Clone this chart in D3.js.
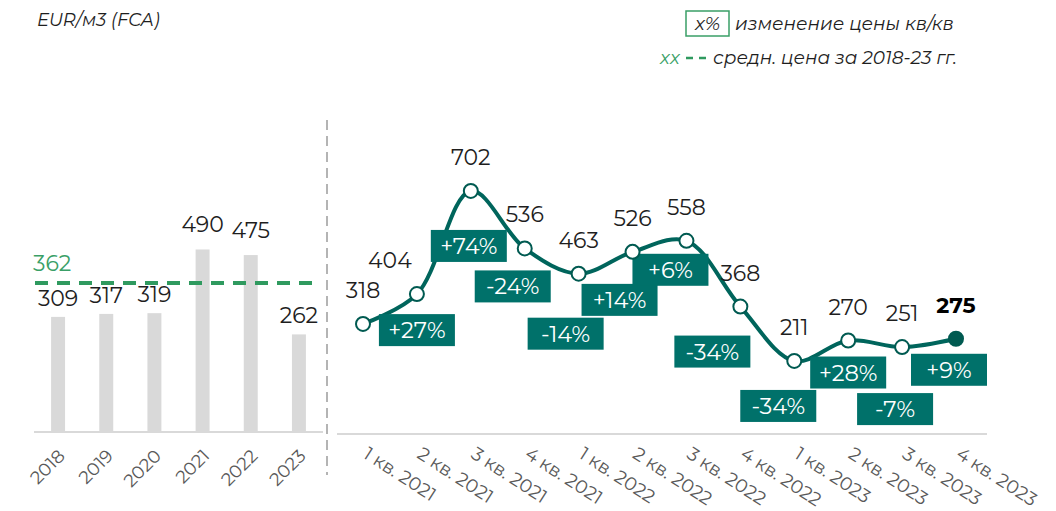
<!DOCTYPE html>
<html>
<head>
<meta charset="utf-8">
<script src="https://cdn.jsdelivr.net/npm/d3@7"></script>
<style>
    body { margin: 0; background: #fff; }
    svg { font-family: Montserrat, Inter, 'DejaVu Sans', sans-serif; }
</style>
</head>
<body>
<svg id="chart" width="1056" height="511"></svg>
<script>
const years = ['2018', '2019', '2020', '2021', '2022', '2023']
const yearPrices = [309, 317, 319, 490, 475, 262]
const avgPrice = 362

const quarters = [
    '1 кв. 2021', '2 кв. 2021', '3 кв. 2021', '4 кв. 2021',
    '1 кв. 2022', '2 кв. 2022', '3 кв. 2022', '4 кв. 2022',
    '1 кв. 2023', '2 кв. 2023', '3 кв. 2023', '4 кв. 2023'
]
const quarterPrices = [318, 404, 702, 536, 463, 526, 558, 368, 211, 270, 251, 275]
const qoqChanges = [27, 74, -24, -14, 14, 6, -34, -34, 28, -7, 9]

// hand placed offsets of the change boxes (from the point they belong to)
const boxOffsets = [
    [0, 36], [-2, 55], [-12, 38], [-13, 60], [-13, 48], [-16, 29],
    [-28, 45], [-16, 45], [0, 32], [-7, 62], [-7, 31]
]
const valueLabelDx = [0, -27, 0, 0, 0, 0, 0, 0, 0, 0, 0, 0]

const teal = '#00716a'
const lineColor = '#00655c'
const green = '#3a9f67'
const textColor = '#1e1e1e'
const tickColor = '#595959'

const svg = d3.select('#chart')

// ---- bars (years)
const xBar = d3.scaleBand()
    .domain(years)
    .range([34, 323])
    .paddingInner(0.71)
    .paddingOuter(0.355)
const yBar = d3.scaleLinear().domain([0, 800]).range([432, 134])
// average line sits on its own secondary axis
const yAvg = d3.scaleLinear().domain([0, avgPrice * 2]).range([432, 134])

svg.append('g')
    .selectAll('rect')
    .data(yearPrices)
    .enter()
    .append('rect')
    .attr('x', (d, i) => xBar(years[i]))
    .attr('y', (d) => yBar(d))
    .attr('width', xBar.bandwidth())
    .attr('height', (d) => yBar(0) - yBar(d))
    .attr('fill', '#d9d9d9')

svg.append('line')
    .attr('x1', 34).attr('x2', 323)
    .attr('y1', yBar(0)).attr('y2', yBar(0))
    .attr('stroke', '#d9d9d9')
    .attr('stroke-width', 2)

svg.append('line')
    .attr('x1', 35).attr('x2', 316)
    .attr('y1', yAvg(avgPrice)).attr('y2', yAvg(avgPrice))
    .attr('stroke', '#2f9a5f')
    .attr('stroke-width', 4)
    .attr('stroke-dasharray', '13,9')

svg.append('text')
    .attr('x', 33)
    .attr('y', yAvg(avgPrice) - 12)
    .attr('fill', green)
    .attr('font-size', 22)
    .text(avgPrice)

svg.append('g')
    .selectAll('text')
    .data(yearPrices)
    .enter()
    .append('text')
    .attr('x', (d, i) => xBar(years[i]) + xBar.bandwidth() / 2)
    .attr('y', (d) => yBar(d) - (d > 400 ? 17 : 11))
    .attr('text-anchor', 'middle')
    .attr('fill', textColor)
    .attr('font-size', 22)
    .text((d) => d)

svg.append('g')
    .selectAll('text')
    .data(years)
    .enter()
    .append('text')
    .attr('transform', (d) => `translate(${xBar(d) + xBar.bandwidth() / 2 + 8}, 457) rotate(-45)`)
    .attr('text-anchor', 'end')
    .attr('fill', tickColor)
    .attr('font-size', 18)
    .text((d) => d)

// ---- divider
svg.append('line')
    .attr('x1', 327).attr('x2', 327)
    .attr('y1', 120).attr('y2', 475)
    .attr('stroke', '#b4b4b4')
    .attr('stroke-width', 2)
    .attr('stroke-dasharray', '10,6')

// ---- quarterly line
const xLine = d3.scalePoint().domain(quarters).range([363, 956])
const yLine = d3.scaleLinear().domain([0, 800]).range([434, 157])

svg.append('line')
    .attr('x1', 337).attr('x2', 987)
    .attr('y1', yLine(0)).attr('y2', yLine(0))
    .attr('stroke', '#d9d9d9')
    .attr('stroke-width', 2)

const line = d3.line()
    .x((d, i) => xLine(quarters[i]))
    .y((d) => yLine(d))
    .curve(d3.curveCatmullRom.alpha(0.5))

svg.append('path')
    .datum(quarterPrices)
    .attr('d', line)
    .attr('fill', 'none')
    .attr('stroke', lineColor)
    .attr('stroke-width', 4)

// change boxes
const box = svg.append('g')
    .selectAll('g')
    .data(qoqChanges)
    .enter()
    .append('g')
    .attr('transform', (d, i) => {
        const px = xLine(quarters[i + 1]) + boxOffsets[i][0]
        const py = yLine(quarterPrices[i + 1]) + boxOffsets[i][1]
        return `translate(${px}, ${py})`
    })

box.append('rect')
    .attr('x', -38).attr('y', -16)
    .attr('width', 76).attr('height', 32)
    .attr('fill', teal)

box.append('text')
    .attr('y', 8)
    .attr('text-anchor', 'middle')
    .attr('fill', '#fff')
    .attr('font-size', 22.5)
    .text((d) => (d > 0 ? '+' : '') + d + '%')

svg.append('g')
    .selectAll('circle')
    .data(quarterPrices)
    .enter()
    .append('circle')
    .attr('cx', (d, i) => xLine(quarters[i]))
    .attr('cy', (d) => yLine(d))
    .attr('r', 7)
    .attr('fill', (d, i) => i === quarterPrices.length - 1 ? '#005a51' : '#fff')
    .attr('stroke', '#005a51')
    .attr('stroke-width', 2)

svg.append('g')
    .selectAll('text')
    .data(quarterPrices)
    .enter()
    .append('text')
    .attr('x', (d, i) => xLine(quarters[i]) + valueLabelDx[i])
    .attr('y', (d) => yLine(d) - 26)
    .attr('text-anchor', 'middle')
    .attr('fill', (d, i) => i === quarterPrices.length - 1 ? '#000' : textColor)
    .attr('font-weight', (d, i) => i === quarterPrices.length - 1 ? 'bold' : 'normal')
    .attr('font-size', 22)
    .text((d) => d)

svg.append('g')
    .selectAll('text')
    .data(quarters)
    .enter()
    .append('text')
    .attr('transform', (d) => `translate(${xLine(d) - 1}, 457) rotate(33)`)
    .attr('fill', tickColor)
    .attr('font-size', 18.5)
    .text((d) => d)

// ---- titles and legend
svg.append('text')
    .attr('x', 37).attr('y', 26)
    .attr('font-size', 18)
    .attr('font-style', 'italic')
    .attr('fill', textColor)
    .text('EUR/м3 (FCA)')

svg.append('rect')
    .attr('x', 686).attr('y', 11)
    .attr('width', 43).attr('height', 25)
    .attr('fill', 'none')
    .attr('stroke', green)
    .attr('stroke-width', 1.5)

svg.append('text')
    .attr('x', 707.5).attr('y', 30)
    .attr('text-anchor', 'middle')
    .attr('font-size', 18.5)
    .attr('font-style', 'italic')
    .attr('fill', textColor)
    .text('x%')

svg.append('text')
    .attr('x', 735).attr('y', 30)
    .attr('font-size', 18.5)
    .attr('font-style', 'italic')
    .attr('fill', textColor)
    .text('изменение цены кв/кв')

svg.append('text')
    .attr('x', 660).attr('y', 64)
    .attr('font-size', 18.5)
    .attr('font-style', 'italic')
    .attr('fill', green)
    .text('xx')

svg.append('line')
    .attr('x1', 686).attr('x2', 707)
    .attr('y1', 58).attr('y2', 58)
    .attr('stroke', '#2f9a5f')
    .attr('stroke-width', 2.5)
    .attr('stroke-dasharray', '7,6')

svg.append('text')
    .attr('x', 713).attr('y', 64)
    .attr('font-size', 18.5)
    .attr('font-style', 'italic')
    .attr('fill', textColor)
    .text('средн. цена за 2018-23 гг.')
</script>
</body>
</html>
